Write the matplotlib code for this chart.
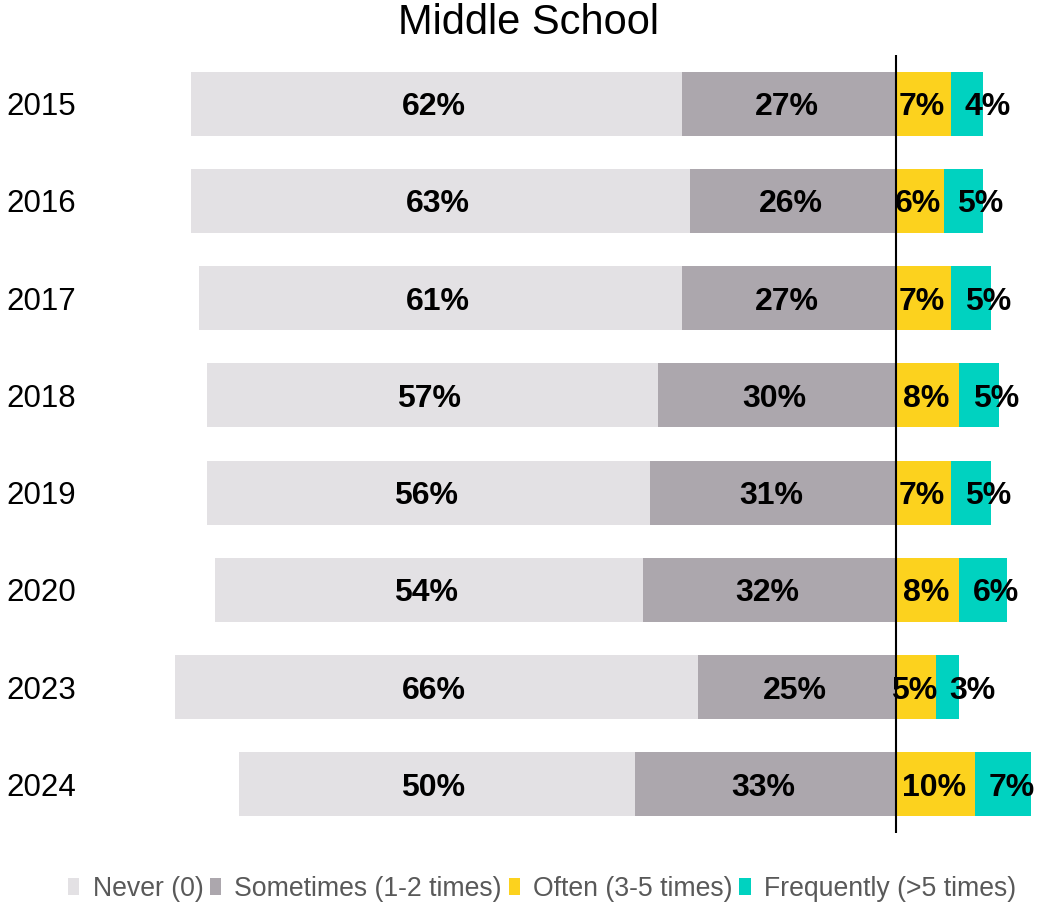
import matplotlib
matplotlib.use("Agg")
import matplotlib.pyplot as plt
from matplotlib import transforms
from matplotlib.patches import Patch

years = ["2015", "2016", "2017", "2018", "2019", "2020", "2023", "2024"]
never = [62, 63, 61, 57, 56, 54, 66, 50]
sometimes = [27, 26, 27, 30, 31, 32, 25, 33]
often = [7, 6, 7, 8, 7, 8, 5, 10]
frequently = [4, 5, 5, 5, 5, 6, 3, 7]
legend_labels = ["Never (0)", "Sometimes (1-2 times)", "Often (3-5 times)", "Frequently (>5 times)"]
title = "Middle School"

colors = ["#E3E1E4", "#ACA7AD", "#FCD21E", "#00D2C0"]

W, H = 1038, 905
fig = plt.figure(figsize=(W / 100, H / 100), dpi=100)
ax = fig.add_axes([0, (H - 833) / H, 1, (833 - 55) / H])
ax.set_xlim(-896 / 7.92, 142 / 7.92)
ax.set_ylim(len(years) - 0.5, -0.5)
ax.axis("off")

ypos = list(range(len(years)))
bh = 0.66
lab_font = dict(fontsize=23, fontweight="bold", family="Liberation Sans", color="black")
for i, y in enumerate(ypos):
    n, s, o, f = never[i], sometimes[i], often[i], frequently[i]
    ax.barh(y, -s, left=0, height=bh, color=colors[1], linewidth=0)
    ax.barh(y, -n, left=-s, height=bh, color=colors[0], linewidth=0)
    ax.barh(y, o, left=0, height=bh, color=colors[2], linewidth=0)
    ax.barh(y, f, left=o, height=bh, color=colors[3], linewidth=0)
    ax.text(-s - n / 2 - 0.4, y, f"{n}%", ha="center", va="center_baseline", **lab_font)
    ax.text(-s / 2 - 0.3, y, f"{s}%", ha="center", va="center_baseline", **lab_font)
    ax.text(o / 2 - 0.2, y, f"{o}%", ha="center", va="center_baseline", **lab_font)
    ax.text(o + 1.7, y, f"{f}%", ha="left", va="center_baseline", **lab_font)

ax.axvline(0, color="black", linewidth=1.5, ymin=0, ymax=1)

trans = transforms.blended_transform_factory(fig.transFigure, ax.transData)
for i, y in enumerate(ypos):
    ax.text(6 / W, y, years[i], transform=trans, ha="left", va="center_baseline",
            fontsize=22.5, family="Liberation Sans", color="black")

fig.text(528 / W, 1 - 23 / H, title, ha="center", va="center",
         fontsize=30, family="Liberation Sans", color="black")

handles = [Patch(facecolor=c, edgecolor="none") for c in colors]
leg = fig.legend(handles, legend_labels, loc="center left",
                 bbox_to_anchor=(68 / W, 1 - 889 / H), ncol=4, frameon=False,
                 handlelength=0.42, handleheight=0.6, handletextpad=0.5,
                 columnspacing=0.25, borderaxespad=0, borderpad=0,
                 prop={"family": "Liberation Sans", "size": 19.2})
for t in leg.get_texts():
    t.set_color("#595959")

fig.savefig("out.png", dpi=100)
